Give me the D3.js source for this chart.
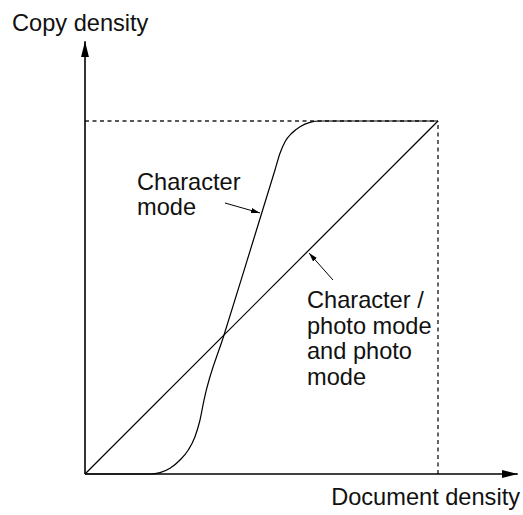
<!DOCTYPE html>
<html>
<head>
<meta charset="utf-8">
<script src="https://cdn.jsdelivr.net/npm/d3@7"></script>
<style>
  html, body { margin: 0; padding: 0; background: #fff; }
  svg { display: block; }
  text { font-family: "Liberation Sans", Arial, Helvetica, sans-serif; font-size: 23.6px; fill: #111; }
</style>
</head>
<body>
<svg id="chart" width="523" height="515"></svg>
<script>
// ---- Data (document density vs copy density, both 0..100) ----
const charModeX = [0, 18.41, 21.25, 24.08, 26.91, 29.26, 31.16, 32.58, 33.71, 39.38, 53.82, 55.24, 56.66, 58.56, 60.91, 63.74, 66.57, 69.41, 100];
const charModeY = [0, 0, 0.37, 1.61, 3.97, 6.80, 10.57, 15.30, 20.96, 39.38, 86.12, 90.85, 94.14, 96.52, 98.39, 99.63, 100, 100, 100];
const photoModeX = [0, 100];
const photoModeY = [0, 100];
const maxDensity = 100;
const axisExtent = 122.6;
const axisLabels = ["Document density", "Copy density"];
const charLabel = ["Character", "mode"];
const photoLabel = ["Character /", "photo mode", "and photo", "mode"];
// annotation anchors in data units
const charArrow = [[39.66, 76.77], [49.58, 73.94]];
const photoArrow = [[70.25, 54.96], [63.46, 62.61]];
const charLabelPos = [14.73, 80.45];
const photoLabelPos = [62.89, 47.03];

const svg = d3.select("#chart");
const x = d3.scaleLinear().domain([0, 100]).range([85, 438]);
const y = d3.scaleLinear().domain([0, 100]).range([474, 121]);

const defs = svg.append("defs");
defs.append("marker")
  .attr("id", "axisArrow").attr("markerUnits", "userSpaceOnUse")
  .attr("viewBox", "0 -5 16 10").attr("refX", 16).attr("refY", 0)
  .attr("markerWidth", 16).attr("markerHeight", 10).attr("orient", "auto")
  .append("path").attr("d", "M0,-4L16,0L0,4Z").attr("fill", "#000");
defs.append("marker")
  .attr("id", "smallArrow").attr("markerUnits", "userSpaceOnUse")
  .attr("viewBox", "0 -3 9 6").attr("refX", 9).attr("refY", 0)
  .attr("markerWidth", 9).attr("markerHeight", 6).attr("orient", "auto")
  .append("path").attr("d", "M0,-2.6L9,0L0,2.6Z").attr("fill", "#000");

// dashed guides
svg.append("line")
  .attr("x1", x(0)).attr("y1", y(maxDensity)).attr("x2", x(maxDensity)).attr("y2", y(maxDensity))
  .attr("stroke", "#222").attr("stroke-width", 1.4).attr("stroke-dasharray", "4,3.5");
svg.append("line")
  .attr("x1", x(maxDensity)).attr("y1", y(0)).attr("x2", x(maxDensity)).attr("y2", y(maxDensity))
  .attr("stroke", "#222").attr("stroke-width", 1.4).attr("stroke-dasharray", "4,3.5");

// axes
svg.append("line")
  .attr("x1", x(0)).attr("y1", y(0)).attr("x2", x(axisExtent)).attr("y2", y(0))
  .attr("stroke", "#000").attr("stroke-width", 1.6).attr("marker-end", "url(#axisArrow)");
svg.append("line")
  .attr("x1", x(0)).attr("y1", y(0)).attr("x2", x(0)).attr("y2", y(axisExtent))
  .attr("stroke", "#000").attr("stroke-width", 1.6).attr("marker-end", "url(#axisArrow)");

// curves
const line = d3.line().x(d => x(d[0])).y(d => y(d[1]));
svg.append("path")
  .datum(photoModeX.map((v, i) => [v, photoModeY[i]]))
  .attr("d", line).attr("fill", "none").attr("stroke", "#000").attr("stroke-width", 1.2);
svg.append("path")
  .datum(charModeX.map((v, i) => [v, charModeY[i]]))
  .attr("d", line.curve(d3.curveMonotoneX)).attr("fill", "none").attr("stroke", "#000").attr("stroke-width", 1.2);

// annotation arrows
[charArrow, photoArrow].forEach(a => {
  svg.append("line")
    .attr("x1", x(a[0][0])).attr("y1", y(a[0][1])).attr("x2", x(a[1][0])).attr("y2", y(a[1][1]))
    .attr("stroke", "#000").attr("stroke-width", 1).attr("marker-end", "url(#smallArrow)");
});

// labels
svg.append("text").attr("x", 12).attr("y", 31).text(axisLabels[1]);
svg.append("text").attr("x", 520).attr("y", 505).attr("text-anchor", "end").text(axisLabels[0]);

function multiline(lines, pos, lh) {
  const t = svg.append("text").attr("x", x(pos[0])).attr("y", y(pos[1]));
  lines.forEach((s, i) => {
    t.append("tspan").attr("x", x(pos[0])).attr("y", y(pos[1]) + i * lh).text(s);
  });
}
multiline(charLabel, charLabelPos, 25);
multiline(photoLabel, photoLabelPos, 25.7);
</script>
</body>
</html>
